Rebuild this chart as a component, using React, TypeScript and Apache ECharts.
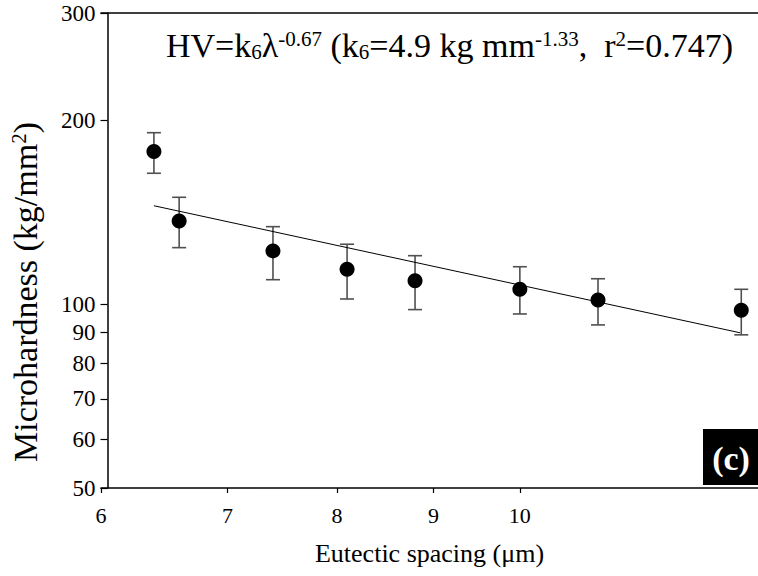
import React, { useEffect, useRef } from "react";
import * as echarts from "echarts";

// Data
const spacing = [6.4, 6.6, 7.4, 8.1, 8.8, 10.0, 11.0, 13.1];
const hardness = [178.0, 136.9, 122.3, 114.1, 109.3, 105.8, 101.6, 97.8];
const errHigh = [191.0, 149.7, 134.0, 125.4, 120.1, 115.2, 110.1, 105.8];
const errLow = [163.9, 123.8, 109.7, 102.0, 98.0, 96.4, 92.5, 89.1];
const fitX = [6.4, 13.08];
const fitY = [145.0, 89.8];
const xTicks = [6, 7, 8, 9, 10];
const yTicks = [50, 60, 70, 80, 90, 100, 200, 300];

const FONT = "Liberation Serif";

export default function App() {
  const ref = useRef<HTMLDivElement>(null);

  useEffect(() => {
    if (!ref.current) return;
    const chart = echarts.init(ref.current, null, { renderer: "svg" });

    const axisLineStyle = { color: "#000", width: 1.5 };

    const option: any = {
      animation: false,
      backgroundColor: "#fff",
      textStyle: { fontFamily: FONT },
      grid: { left: 101, right: 0, top: 13, bottom: 88, containLabel: false },
      xAxis: [
        {
          type: "log",
          logBase: 10,
          min: 6,
          max: 13.37,
          axisLine: { show: true, onZero: false, lineStyle: axisLineStyle },
          axisTick: {
            show: true,
            customValues: xTicks,
            length: 5,
            lineStyle: { color: "#000", width: 1.2 },
          },
          axisLabel: {
            customValues: xTicks,
            fontFamily: FONT,
            fontSize: 22,
            color: "#000",
            margin: 16,
          },
          splitLine: { show: false },
          minorTick: { show: false },
          name: "Eutectic spacing (μm)",
          nameLocation: "middle",
          nameGap: 52,
          nameTextStyle: { fontFamily: FONT, fontSize: 26, color: "#000" },
        },
        {
          type: "log",
          logBase: 10,
          position: "top",
          min: 6,
          max: 13.37,
          axisLine: { show: true, onZero: false, lineStyle: axisLineStyle },
          axisTick: { show: false },
          axisLabel: { show: false },
          splitLine: { show: false },
        },
      ],
      yAxis: {
        type: "log",
        logBase: 10,
        min: 50,
        max: 300,
        offset: -6.5,
        axisLine: { show: true, onZero: false, lineStyle: axisLineStyle },
        axisTick: {
          show: true,
          customValues: yTicks,
          length: 7,
          lineStyle: { color: "#000", width: 1.2 },
        },
        axisLabel: {
          customValues: yTicks,
          fontFamily: FONT,
          fontSize: 23,
          color: "#000",
          margin: 12,
        },
        splitLine: { show: false },
      },
      series: [
        {
          type: "custom",
          name: "error",
          data: spacing.map((x, i) => [x, errLow[i], errHigh[i]]),
          encode: { x: 0, y: [1, 2] },
          z: 2,
          renderItem: (params: any, api: any) => {
            const x = api.value(0);
            const lo = api.coord([x, api.value(1)]);
            const hi = api.coord([x, api.value(2)]);
            const hw = 7;
            const style = { stroke: "#505050", lineWidth: 1.6 };
            return {
              type: "group",
              children: [
                { type: "line", shape: { x1: lo[0], y1: lo[1], x2: hi[0], y2: hi[1] }, style },
                { type: "line", shape: { x1: lo[0] - hw, y1: lo[1], x2: lo[0] + hw, y2: lo[1] }, style },
                { type: "line", shape: { x1: hi[0] - hw, y1: hi[1], x2: hi[0] + hw, y2: hi[1] }, style },
              ],
            };
          },
        },
        {
          type: "line",
          name: "fit",
          data: fitX.map((x, i) => [x, fitY[i]]),
          symbol: "none",
          lineStyle: { color: "#000", width: 1 },
          z: 3,
        },
        {
          type: "scatter",
          name: "HV",
          data: spacing.map((x, i) => [x, hardness[i]]),
          symbol: "circle",
          symbolSize: 15,
          itemStyle: { color: "#000", opacity: 1 },
          z: 4,
        },
      ],
      graphic: [
        {
          type: "text",
          left: 166,
          top: 28,
          style: {
            text: "HV=k{sub|6}λ{sup|-0.67} (k{sub|6}=4.9 kg mm{sup|-1.33},  r{sup|2}=0.747)",
            fontFamily: FONT,
            fontSize: 34,
            fill: "#000",
            rich: {
              sub: { fontSize: 21, fontFamily: FONT, verticalAlign: "bottom", lineHeight: 18, fill: "#000" },
              sup: { fontSize: 21, fontFamily: FONT, verticalAlign: "top", lineHeight: 20, fill: "#000" },
            },
          },
        },
        {
          type: "text",
          x: 25,
          y: 292,
          rotation: Math.PI / 2,
          style: {
            text: "Microhardness (kg/mm{sup|2})",
            fontFamily: FONT,
            fontSize: 34,
            fill: "#000",
            align: "center",
            verticalAlign: "middle",
            rich: {
              sup: { fontSize: 21, fontFamily: FONT, verticalAlign: "top", lineHeight: 20, fill: "#000" },
            },
          },
        },
        {
          type: "rect",
          shape: { x: 703, y: 429, width: 55, height: 56 },
          style: { fill: "#000" },
        },
        {
          type: "text",
          x: 731,
          y: 458,
          style: {
            text: "(c)",
            fontFamily: FONT,
            fontWeight: "bold",
            fontSize: 34,
            fill: "#fff",
            align: "center",
            verticalAlign: "middle",
          },
        },
      ],
    };

    chart.setOption(option);
    return () => chart.dispose();
  }, []);

  return (
    <div
      ref={ref}
      style={{ position: "fixed", left: 0, top: 0, width: 758, height: 576 }}
    />
  );
}
